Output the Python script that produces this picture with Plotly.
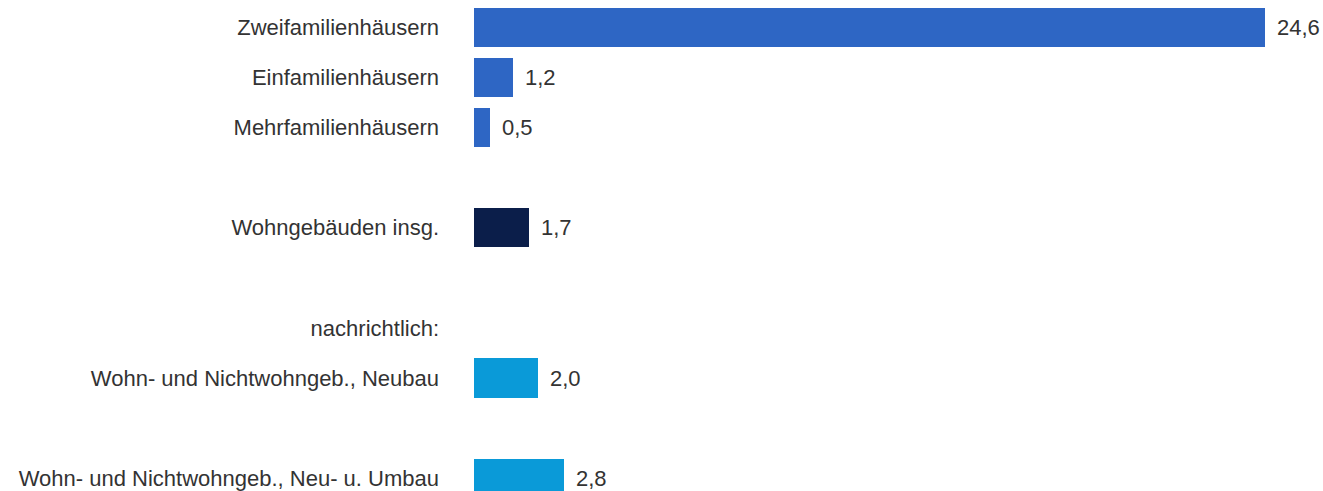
import plotly.graph_objects as go

# Data
categories = [
    "Zweifamilienhäusern",
    "Einfamilienhäusern",
    "Mehrfamilienhäusern",
    "Wohngebäuden insg.",
    "Wohn- und Nichtwohngeb., Neubau",
    "Wohn- und Nichtwohngeb., Neu- u. Umbau",
]
values = [24.6, 1.2, 0.5, 1.7, 2.0, 2.8]
value_labels = ["24,6", "1,2", "0,5", "1,7", "2,0", "2,8"]
row_positions = [0, 1, 2, 4, 7, 9]
bar_colors = ["#2e66c4", "#2e66c4", "#2e66c4", "#0b1e4a", "#0a9ad8", "#0a9ad8"]
note_label = "nachrichtlich:"
note_position = 6

tick_vals = row_positions[:4] + [note_position] + row_positions[4:]
tick_text = categories[:4] + [note_label] + categories[4:]

FONT = "Liberation Sans, Arial, sans-serif"
TEXT_COLOR = "#333333"

fig = go.Figure()
fig.add_trace(go.Bar(
    x=values,
    y=row_positions,
    orientation="h",
    width=0.78,
    marker=dict(color=bar_colors, line=dict(width=0)),
    hoverinfo="skip",
))

for v, lab, pos in zip(values, value_labels, row_positions):
    fig.add_annotation(
        x=v, y=pos, text=lab, showarrow=False,
        xanchor="left", yanchor="middle", xshift=10,
        font=dict(family=FONT, size=22, color=TEXT_COLOR),
    )

fig.update_layout(
    width=1323, height=491,
    margin=dict(l=474, r=13, t=0, b=0),
    paper_bgcolor="white", plot_bgcolor="white",
    showlegend=False,
    bargap=0,
)
fig.update_xaxes(
    range=[0, 26], visible=False, showgrid=False, zeroline=False,
)
fig.update_yaxes(
    range=[9.255, -0.545],
    tickmode="array", tickvals=tick_vals, ticktext=tick_text,
    showgrid=False, zeroline=False, showline=False,
    ticks="", ticklabelstandoff=34,
    tickfont=dict(family=FONT, size=22, color=TEXT_COLOR),
)

fig.write_html(
    "out.html",
    config={"displayModeBar": False},
    post_script="document.body.style.margin='0';document.body.style.overflow='hidden';",
)
